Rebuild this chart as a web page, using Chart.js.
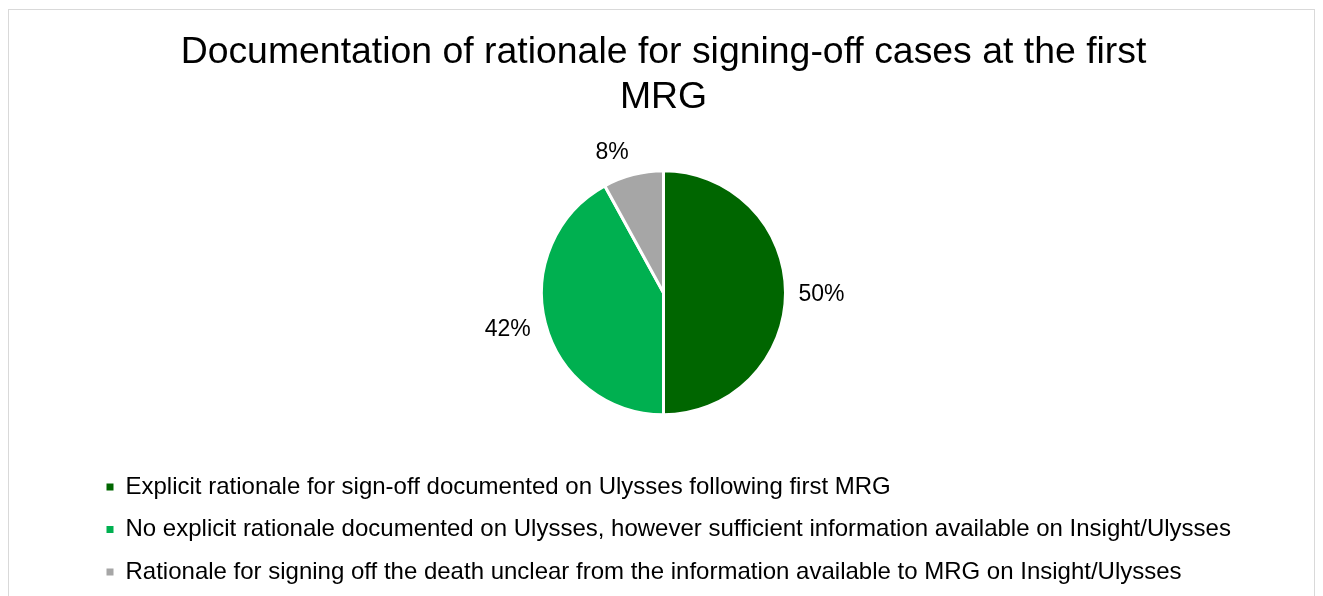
<!DOCTYPE html>
<html>
<head>
<meta charset="utf-8">
<script src="https://cdn.jsdelivr.net/npm/chart.js@4.4.1/dist/chart.umd.min.js"></script>
<style>
  html, body { margin: 0; padding: 0; background: #fff; overflow: hidden; }
  #marco { position: absolute; left: 8px; top: 9px; width: 1305px; height: 640px; border: 1px solid #d9d9d9; }
  #grafico { position: absolute; left: 0; top: 0; }
</style>
</head>
<body>
<div id="marco"></div>
<canvas id="grafico" width="1323" height="596"></canvas>
<script>
const categorias = [
  "Explicit rationale for sign-off documented on Ulysses following first MRG",
  "No explicit rationale documented on Ulysses, however sufficient information available on Insight/Ulysses",
  "Rationale for signing off the death unclear from the information available to MRG on Insight/Ulysses",
];
const valores = [50, 42, 8];
const coloresPorciones = ["#006600", "#00b050", "#a6a6a6"];
const tituloLineas = [
  "Documentation of rationale for signing-off cases at the first",
  "MRG",
];

const fuente = "'Liberation Sans', Arial, sans-serif";

// etiquetas de porcentaje fuera de cada porcion, estilo Excel
const etiquetasPorcentaje = {
  id: "etiquetasPorcentaje",
  afterDatasetsDraw(chart) {
    const { ctx } = chart;
    const meta = chart.getDatasetMeta(0);
    const total = valores.reduce((acc, v) => acc + v, 0);
    const tamano = 23;
    ctx.save();
    ctx.font = `${tamano}px ${fuente}`;
    ctx.fillStyle = "#000";
    ctx.textAlign = "center";
    ctx.textBaseline = "middle";
    meta.data.forEach((arco, i) => {
      const { x, y, startAngle, endAngle, outerRadius } = arco.getProps(
        ["x", "y", "startAngle", "endAngle", "outerRadius"],
        true
      );
      const medio = (startAngle + endAngle) / 2;
      const dx = Math.cos(medio);
      const dy = Math.sin(medio);
      const texto = Math.round((valores[i] / total) * 100) + "%";
      const ancho = ctx.measureText(texto).width;
      const ancla = outerRadius + 14;
      const px = x + dx * ancla;
      const py = y + dy * ancla;
      const ox = Math.abs(dx) < 1e-6 ? 0 : Math.sign(dx) * (ancho / 2);
      const oy = dy * Math.abs(dy) * (tamano / 2);
      ctx.fillText(texto, px + ox - 1, py + oy + 2);
    });
    ctx.restore();
  },
};

new Chart(document.querySelector("#grafico"), {
  type: "pie",
  data: {
    labels: categorias,
    datasets: [
      {
        data: valores,
        backgroundColor: coloresPorciones,
        borderColor: "#ffffff",
        borderWidth: 3,
      },
    ],
  },
  options: {
    responsive: false,
    animation: false,
    radius: 122,
    layout: { padding: { top: 20, left: 88, right: 84, bottom: 2 } },
    plugins: {
      tooltip: { enabled: false },
      title: {
        display: true,
        text: tituloLineas,
        color: "#000",
        font: { size: 37.4, family: fuente, weight: "normal", lineHeight: 1.2032 },
        padding: { top: 10, bottom: 9 },
      },
      legend: {
        position: "bottom",
        align: "start",
        labels: {
          color: "#000",
          font: { size: 24, family: fuente },
          boxWidth: 7,
          boxHeight: 7,
          padding: 18.5,
          generateLabels: (chart) =>
            Chart.overrides.pie.plugins.legend.labels
              .generateLabels(chart)
              .map((item) => ({ ...item, lineWidth: 0, strokeStyle: item.fillStyle })),
        },
      },
    },
  },
  plugins: [etiquetasPorcentaje],
});
</script>
</body>
</html>
